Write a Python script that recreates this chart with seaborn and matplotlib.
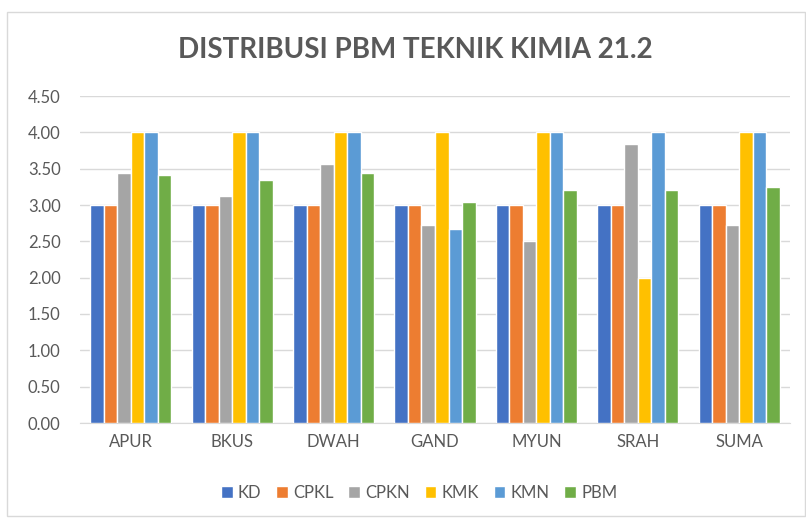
import pandas as pd
import matplotlib.pyplot as plt
import seaborn as sns
from matplotlib.patches import Rectangle

categories = ['APUR', 'BKUS', 'DWAH', 'GAND', 'MYUN', 'SRAH', 'SUMA']
series = ['KD', 'CPKL', 'CPKN', 'KMK', 'KMN', 'PBM']

kd = [3.00, 3.00, 3.00, 3.00, 3.00, 3.00, 3.00]
cpkl = [3.00, 3.00, 3.00, 3.00, 3.00, 3.00, 3.00]
cpkn = [3.44, 3.13, 3.56, 2.73, 2.51, 3.84, 2.73]
kmk = [4.00, 4.00, 4.00, 4.00, 4.00, 2.00, 4.00]
kmn = [4.00, 4.00, 4.00, 2.67, 4.00, 4.00, 4.00]
pbm = [3.41, 3.34, 3.44, 3.04, 3.20, 3.20, 3.25]

colors = ['#4472C4', '#ED7D31', '#A5A5A5', '#FFC000', '#5B9BD5', '#70AD47']


def main():
    rows = []
    for name, vals in zip(series, [kd, cpkl, cpkn, kmk, kmn, pbm]):
        for cat, v in zip(categories, vals):
            rows.append({'Kode': cat, 'Seri': name, 'Nilai': v})
    df = pd.DataFrame(rows)

    sns.set_style('white')
    plt.rcParams['font.family'] = ['Lato', 'DejaVu Sans']
    text_col = '#595959'

    fig = plt.figure(figsize=(8.06, 5.19), dpi=100)
    ax = fig.add_axes([80 / 806, 1 - 423 / 519, 710 / 806, 327 / 519])

    sns.barplot(data=df, x='Kode', y='Nilai', hue='Seri', palette=colors,
                saturation=1, width=0.8, edgecolor='white', linewidth=1,
                ax=ax, zorder=3)

    ax.set_ylim(0, 4.5)
    ax.set_yticks([i * 0.5 for i in range(10)])
    ax.set_yticklabels([f'{i * 0.5:.2f}' for i in range(10)])
    ax.set_xlim(-0.5, len(categories) - 0.5)
    ax.yaxis.grid(True, color='#D9D9D9', linewidth=1, zorder=0)
    ax.set_axisbelow(True)
    for s in ['top', 'right', 'left']:
        ax.spines[s].set_visible(False)
    ax.spines['bottom'].set_color('#D9D9D9')
    ax.tick_params(axis='both', length=0, labelsize=12, colors=text_col, pad=8)
    ax.tick_params(axis='y', pad=14)
    ax.set_xlabel('')
    ax.set_ylabel('')

    fig.text(0.515, 1 - 50 / 519, 'DISTRIBUSI PBM TEKNIK KIMIA 21.2', ha='center',
             va='center', fontsize=20, fontweight='bold', color=text_col)

    handles, labels = ax.get_legend_handles_labels()
    ax.legend(handles, labels, loc='center', bbox_to_anchor=(0.52, 1 - 493 / 519),
              bbox_transform=fig.transFigure, ncol=6, frameon=False,
              fontsize=12, labelcolor=text_col, handlelength=0.7, handleheight=0.7,
              columnspacing=0.9, handletextpad=0.3)

    fig.patches.append(Rectangle((7 / 806, 1 - 516 / 519), 798 / 806, 504 / 519,
                                 transform=fig.transFigure, fill=False,
                                 edgecolor='#D9D9D9', linewidth=1))

    fig.savefig('out.png', dpi=100)
    plt.close(fig)


if __name__ == "__main__":
    main()
